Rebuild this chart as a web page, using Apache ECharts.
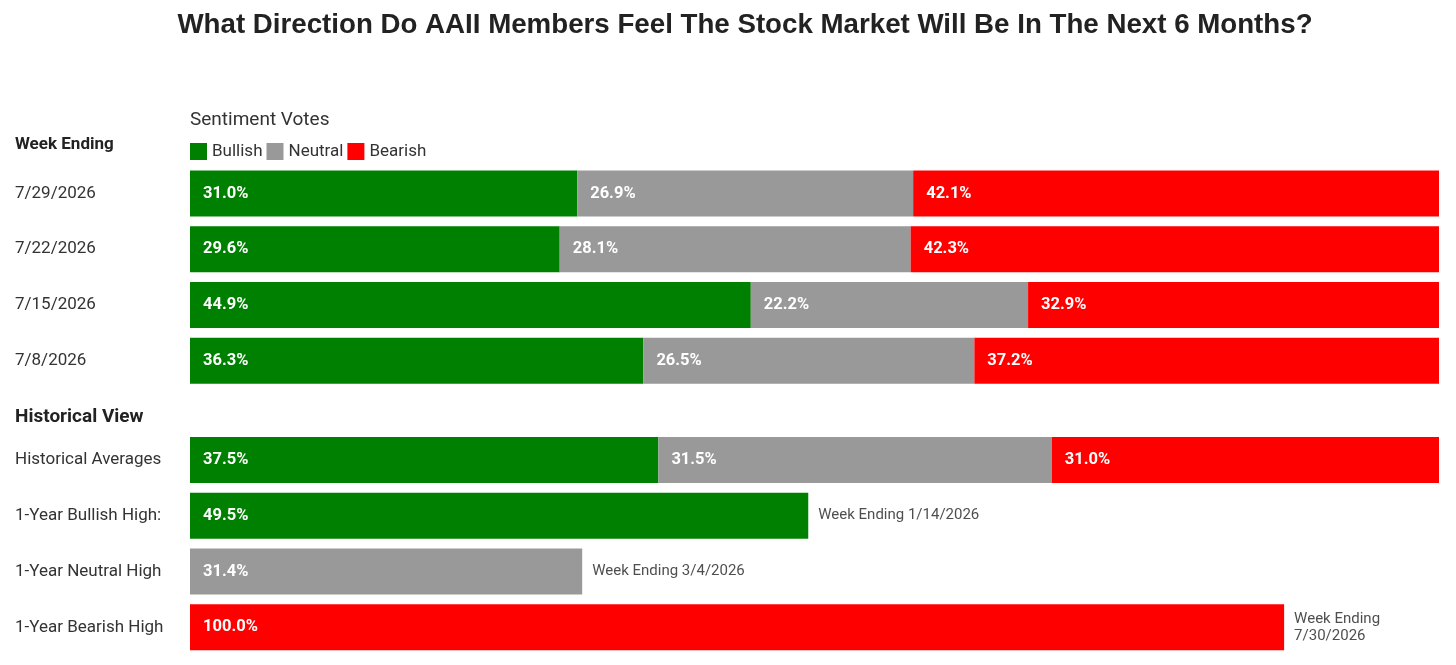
<!DOCTYPE html>
<html>
<head>
<meta charset="utf-8">
<script src="https://cdn.jsdelivr.net/npm/echarts@6/dist/echarts.min.js"></script>
<style>
  html, body { margin: 0; padding: 0; background: #fff; }
  #chart { width: 1456px; height: 665px; }
</style>
</head>
<body>
<div id="chart"></div>
<script>
// weekly votes
const weeks = ["7/29/2026", "7/22/2026", "7/15/2026", "7/8/2026"];
const weekBullish = [31.0, 29.6, 44.9, 36.3];
const weekNeutral = [26.9, 28.1, 22.2, 26.5];
const weekBearish = [42.1, 42.3, 32.9, 37.2];

// historical view
const histRows = ["Historical Averages", "1-Year Bullish High:", "1-Year Neutral High", "1-Year Bearish High"];
const histBullish = [37.5, 49.5, null, null];
const histNeutral = [31.5, null, 31.4, null];
const histBearish = [31.0, null, null, 100.0];
// the 100% bar is drawn shorter than full width in the picture
const histBearishDrawn = [31.0, null, null, 87.6];
const histNotes = ["", "Week Ending 1/14/2026", "Week Ending 3/4/2026", "Week Ending\n7/30/2026"];

const colors = { Bullish: "#008000", Neutral: "#999999", Bearish: "#ff0000" };
const FONT = "Roboto";

const chart = echarts.init(document.getElementById("chart"));

function valueLabel(fmt) {
    return {
        show: true,
        position: "insideLeft",
        distance: 13,
        color: "#fff",
        fontFamily: FONT,
        fontWeight: "bold",
        fontSize: 16.5,
        formatter: fmt || (p => p.value.toFixed(1) + "%")
    };
}

function barSeries(name, data, gridIdx, fmt) {
    return {
        name: name,
        type: "bar",
        stack: "s" + gridIdx,
        xAxisIndex: gridIdx,
        yAxisIndex: gridIdx,
        barWidth: 46,
        itemStyle: { color: colors[name] },
        label: valueLabel(fmt),
        data: data,
        animation: false
    };
}

const yAxisBase = {
    type: "category",
    inverse: true,
    axisLine: { show: false },
    axisTick: { show: false },
    axisLabel: {
        align: "left",
        margin: 175,
        color: "#333",
        fontFamily: FONT,
        fontSize: 17
    }
};

// notes at the end of the historical high bars
const noteData = [];
for (let i = 1; i < histRows.length; i++) {
    const v = [histBullish[i], histNeutral[i], histBearishDrawn[i]].find(x => x != null);
    noteData.push({ value: [v, histRows[i]], note: histNotes[i] });
}

const option = {
    backgroundColor: "#fff",
    title: [
        {
            text: "What Direction Do AAII Members Feel The Stock Market Will Be In The Next 6 Months?",
            left: 745, top: 11, padding: 0, textAlign: "center",
            textStyle: { fontFamily: "Liberation Sans", fontWeight: "bold", fontSize: 27.7, color: "#222" }
        },
        {
            text: "Sentiment Votes", left: 190, top: 111, padding: 0,
            textStyle: { fontFamily: FONT, fontWeight: "normal", fontSize: 19, color: "#333" }
        },
        {
            text: "Week Ending", left: 15, top: 136, padding: 0,
            textStyle: { fontFamily: FONT, fontWeight: "bold", fontSize: 17, color: "#222" }
        },
        {
            text: "Historical View", left: 15, top: 408, padding: 0,
            textStyle: { fontFamily: FONT, fontWeight: "bold", fontSize: 19, color: "#222" }
        }
    ],
    legend: {
        data: ["Bullish", "Neutral", "Bearish"],
        left: 190, top: 143, padding: 0,
        icon: "rect",
        itemWidth: 17, itemHeight: 17, itemGap: 4,
        textStyle: { fontFamily: FONT, fontSize: 17, color: "#333" },
        selectedMode: false
    },
    grid: [
        { left: 190, right: 17, top: 165.5, height: 223.2 },
        { left: 190, right: 17, top: 432, height: 223.2 }
    ],
    xAxis: [
        { type: "value", gridIndex: 0, min: 0, max: 100, show: false },
        { type: "value", gridIndex: 1, min: 0, max: 100, show: false }
    ],
    yAxis: [
        Object.assign({ gridIndex: 0, data: weeks }, yAxisBase),
        Object.assign({ gridIndex: 1, data: histRows }, yAxisBase)
    ],
    series: [
        barSeries("Bullish", weekBullish, 0),
        barSeries("Neutral", weekNeutral, 0),
        barSeries("Bearish", weekBearish, 0),
        barSeries("Bullish", histBullish, 1),
        barSeries("Neutral", histNeutral, 1),
        barSeries("Bearish", histBearishDrawn, 1, p => histBearish[p.dataIndex].toFixed(1) + "%"),
        {
            name: "notes",
            type: "scatter",
            xAxisIndex: 1,
            yAxisIndex: 1,
            symbolSize: 0,
            silent: true,
            animation: false,
            label: {
                show: true,
                position: "right",
                distance: 10,
                color: "#222",
                fontFamily: FONT,
                fontSize: 15,
                lineHeight: 17,
                formatter: p => p.data.note
            },
            data: noteData
        }
    ]
};

chart.setOption(option);
</script>
</body>
</html>
